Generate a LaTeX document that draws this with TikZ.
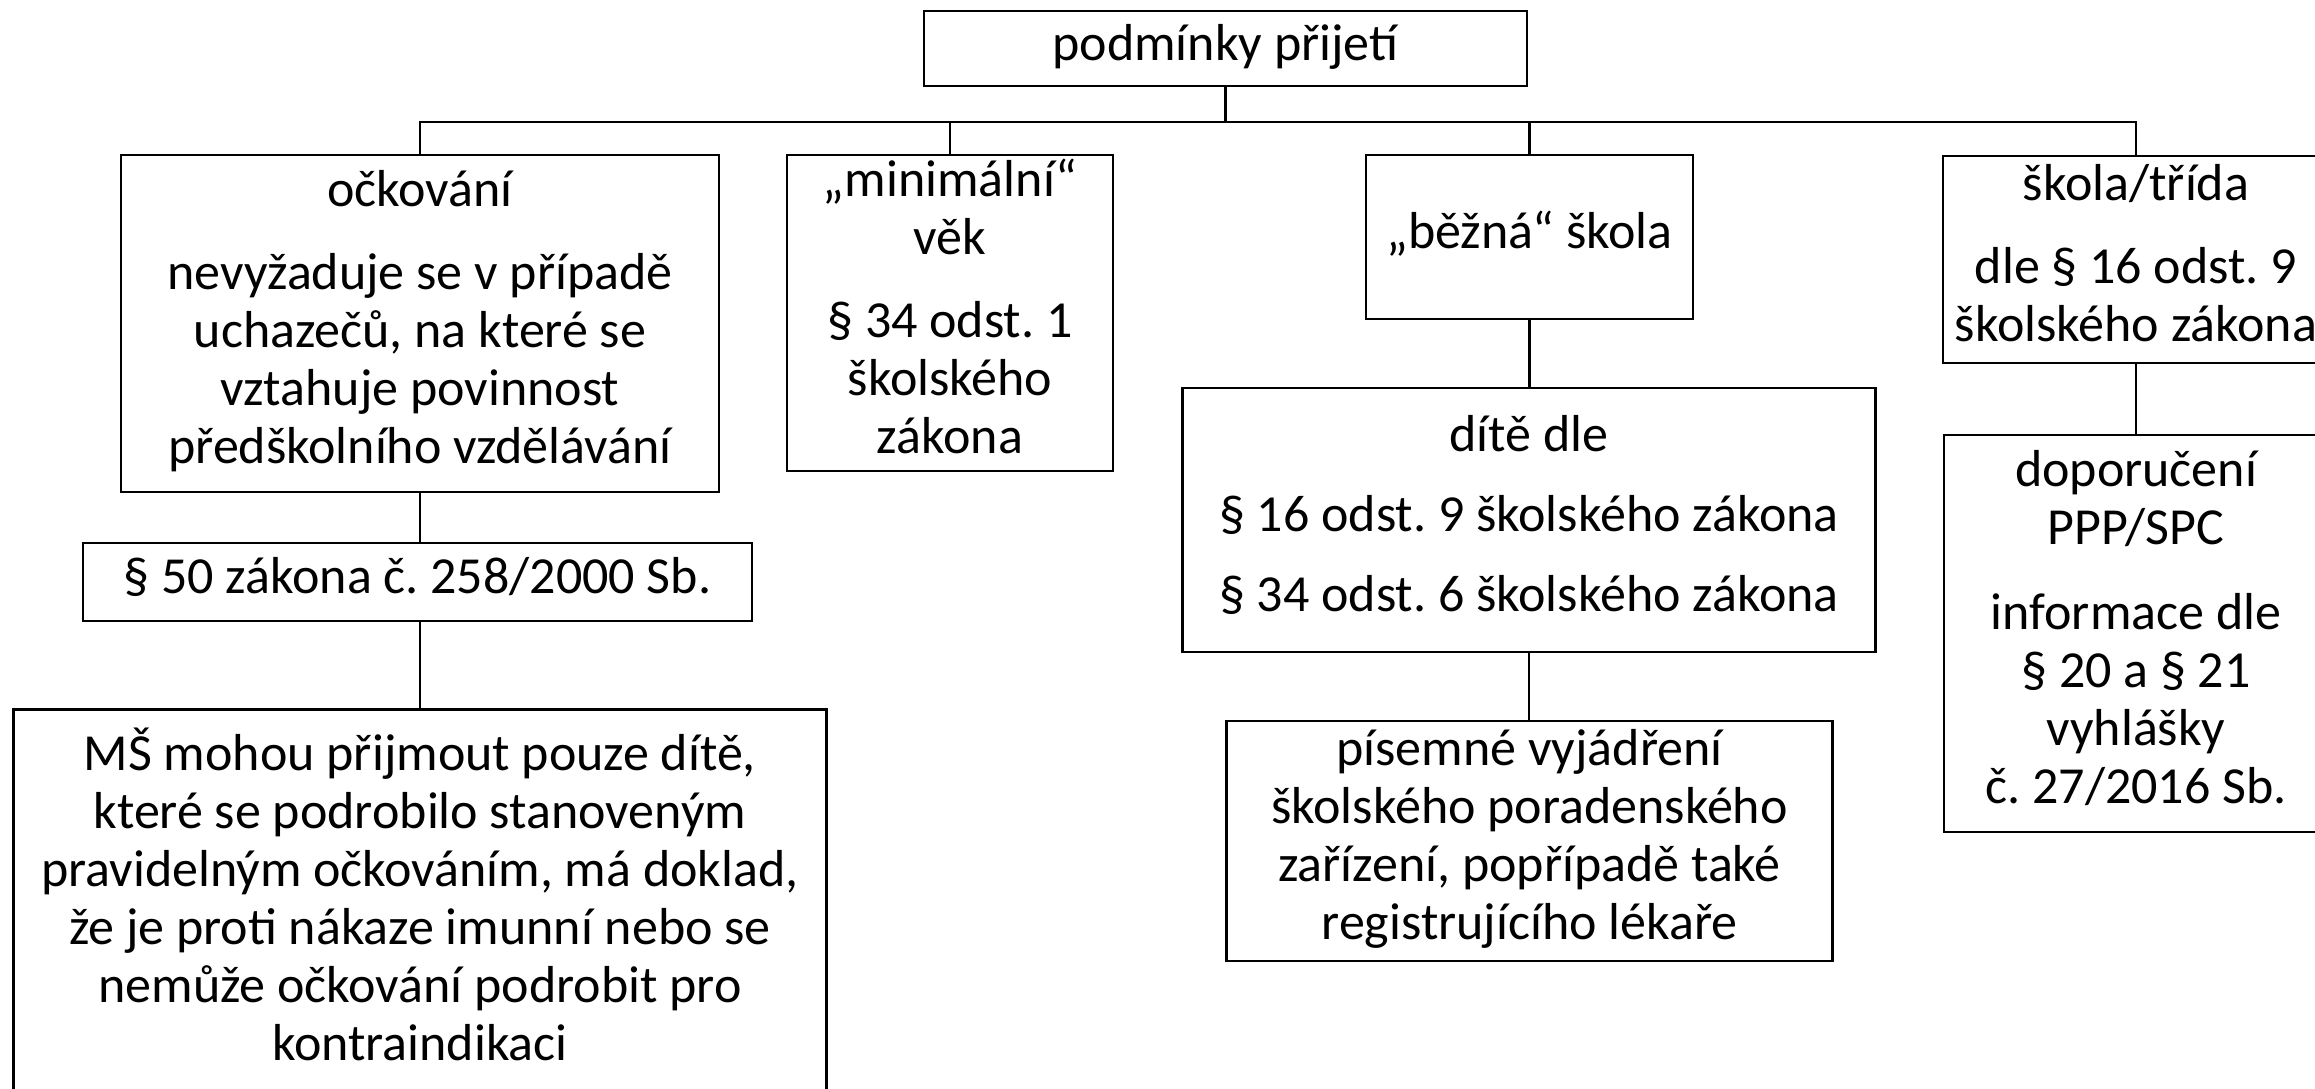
\documentclass[tikz,border=0pt]{standalone}
\usepackage{fontspec}
\setmainfont{Carlito}
\frenchspacing
\begin{document}
\begin{tikzpicture}[x=1pt,y=-1pt,
  box/.style={draw=black, line width=2.5pt, fill=white, inner sep=0pt,
    align=center, font=\fontsize{52}{58}\selectfont},
  link/.style={draw=black, line width=2.2pt}]
\useasboundingbox (0,0) rectangle (2315,1089);
\clip (0,0) rectangle (2315,1089);

% root
\node[box, minimum width=603pt, minimum height=75pt] (root) at (1225.5,48.5)
  {\strut podmínky přijetí};

% first level
\node[box, minimum width=598pt, minimum height=337pt] (ock) at (420,323.5)
  {\strut očkování\\[25pt]
   \strut nevyžaduje se v případě\\
   \strut uchazečů, na které se\\
   \strut vztahuje povinnost\\
   \strut předškolního vzdělávání};
\node[box, minimum width=326pt, minimum height=316pt] (vek) at (950,313)
  {\strut „minimální“\\
   \strut věk\\[25pt]
   \strut § 34 odst. 1\\
   \strut školského\\
   \strut zákona};
\node[box, minimum width=327pt, minimum height=164pt] (bezna) at (1529.5,237)
  {\strut „běžná“ škola};
\node[box, minimum width=386pt, minimum height=207pt] (trida) at (2136,259.5)
  {\strut škola/třída\\[25pt]
   \strut dle § 16 odst. 9\\
   \strut školského zákona};

% second level
\node[box, minimum width=669pt, minimum height=78pt] (zak) at (417.5,582)
  {\strut § 50 zákona č. 258/2000 Sb.};
\node[box, minimum width=693pt, minimum height=264pt] (dite) at (1529,520)
  {\strut dítě dle\\[22pt]
   \strut § 16 odst. 9 školského zákona\\[22pt]
   \strut § 34 odst. 6 školského zákona};
\node[box, minimum width=384pt, minimum height=397pt] (dopor) at (2136,633.5)
  {\strut doporučení\\
   \strut PPP/SPC\\[27pt]
   \strut informace dle\\
   \strut § 20 a § 21\\
   \strut vyhlášky\\
   \strut č. 27/2016 Sb.};

% third level
\node[box, minimum width=813pt, minimum height=386pt] (ms) at (420,902.5)
  {\strut MŠ mohou přijmout pouze dítě,\\
   \strut které se podrobilo stanoveným\\
   \strut pravidelným očkováním, má doklad,\\
   \strut že je proti nákaze imunní nebo se\\
   \strut nemůže očkování podrobit pro\\
   \strut kontraindikaci};
\node[box, minimum width=606pt, minimum height=240pt] (pis) at (1529.5,841)
  {\strut písemné vyjádření\\
   \strut školského poradenského\\
   \strut zařízení, popřípadě také\\
   \strut registrujícího lékaře};

% connectors: one horizontal bus under the root, drops to each child
\coordinate (bus) at (1225.5,122);
\draw[link] (root.south) -- (bus);
\draw[link] (ock.north) |- (bus) -| (trida.north);
\draw[link] (vek.north) -- (vek.north |- bus);
\draw[link] (bezna.north) -- (bezna.north |- bus);
\draw[link] (ock.south) -- (ock.south |- zak.north);
\draw[link] (ock.south |- zak.south) -- (ock.south |- ms.north);
\draw[link] (bezna.south) -- (bezna.south |- dite.north);
\draw[link] (dite.south) -- (dite.south |- pis.north);
\draw[link] (trida.south) -- (dopor.north);
\end{tikzpicture}
\end{document}
